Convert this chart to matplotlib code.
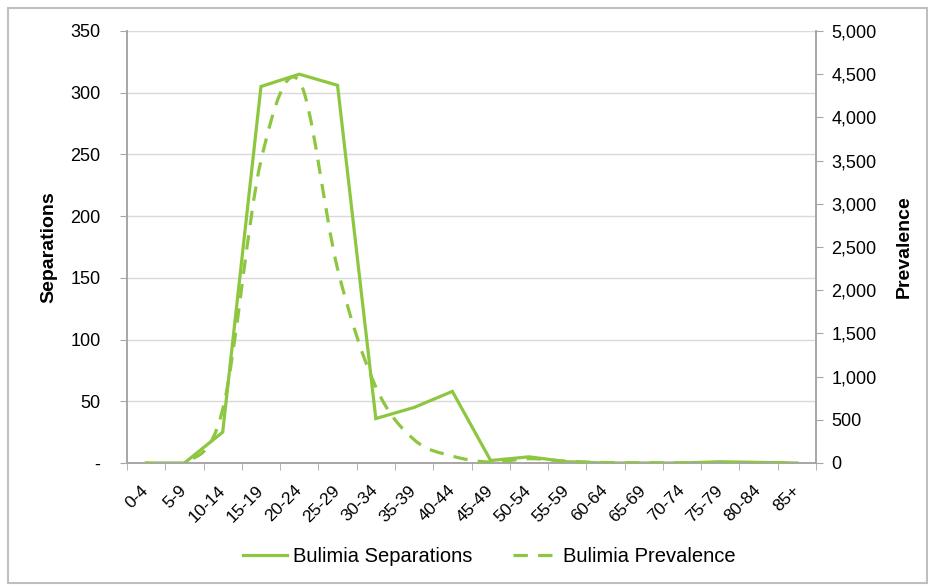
import numpy as np
import matplotlib
matplotlib.use("Agg")
from matplotlib import pyplot as plt
from matplotlib.path import Path
from matplotlib.patches import PathPatch, Rectangle
from matplotlib.lines import Line2D
from matplotlib.ticker import FuncFormatter
from matplotlib.transforms import ScaledTranslation

plt.rcParams['font.family'] = ['Liberation Sans', 'DejaVu Sans']

age_groups = ['0-4', '5-9', '10-14', '15-19', '20-24', '25-29', '30-34', '35-39',
              '40-44', '45-49', '50-54', '55-59', '60-64', '65-69', '70-74',
              '75-79', '80-84', '85+']
separations = [0, 0, 25, 305, 315, 306, 36, 45, 58, 2, 5, 1, 0, 0, 0, 1, 0.5, 0]
prevalence = [0, 0, 620, 3500, 4420, 2250, 880, 270, 80, 10, 50, 20, 5, 3, 2, 5, 2, 1]

green = '#8DC63F'
grey = '#A6A6A6'
dash = (0, (4.5, 3.2))

fig = plt.figure(figsize=(9.29, 5.88), dpi=100)
ax = fig.add_axes([0.1367, 0.2126, 0.7417, 0.7347])
ax2 = ax.twinx()

x = np.arange(len(age_groups))
ax.plot(x, separations, color=green, lw=2.3, solid_joinstyle='miter', zorder=3)

# smoothed dashed line (Excel style bezier through the points)
pts = np.column_stack([x, prevalence]).astype(float)
ext = np.vstack([pts[0], pts, pts[-1]])
verts = [tuple(pts[0])]
codes = [Path.MOVETO]
for i in range(len(pts) - 1):
    p0, p1, p2, p3 = ext[i], ext[i + 1], ext[i + 2], ext[i + 3]
    c1 = p1 + (p2 - p0) / 6
    c2 = p2 - (p3 - p1) / 6
    verts += [tuple(c1), tuple(c2), tuple(p2)]
    codes += [Path.CURVE4] * 3
ax2.add_patch(PathPatch(Path(verts, codes), fill=False, edgecolor=green, lw=2.3,
                        linestyle=dash, zorder=3))

ax.set_xlim(-0.5, len(age_groups) - 0.5)
ax.set_ylim(0, 350)
ax2.set_ylim(0, 5000)

ax.set_yticks(np.arange(0, 351, 50))
ax.yaxis.set_major_formatter(FuncFormatter(lambda v, p: '-' if v == 0 else f'{int(v)}'))
ax2.set_yticks(np.arange(0, 5001, 500))
ax2.yaxis.set_major_formatter(FuncFormatter(lambda v, p: f'{int(v):,}'))

ax.set_xticks(x)
ax.set_xticklabels(age_groups, rotation=45, ha='right', va='center', rotation_mode='anchor')
shift = ScaledTranslation(-5 / 100, 0, fig.dpi_scale_trans)
for lab in ax.get_xticklabels():
    lab.set_transform(lab.get_transform() + shift)
ax.set_xticks(np.arange(-0.5, len(age_groups)), minor=True)
ax.tick_params(axis='x', which='major', length=0, pad=18, labelsize=12.5)
ax.tick_params(axis='x', which='minor', length=5, color=grey)
ax.tick_params(axis='y', length=5, color=grey, labelsize=13, pad=14)
ax2.tick_params(axis='y', length=5, color=grey, labelsize=13, pad=6)

ax.grid(axis='y', color='#D9D9D9', lw=1)
ax.set_axisbelow(True)
for a in (ax, ax2):
    a.spines['top'].set_visible(False)
    for s in ('left', 'right', 'bottom'):
        a.spines[s].set_color(grey)
        a.spines[s].set_linewidth(1.2)

ax.set_ylabel('Separations', fontsize=14, fontweight='bold', labelpad=9)
ax2.set_ylabel('Prevalence', fontsize=14, fontweight='bold', labelpad=14)

handles = [Line2D([], [], color=green, lw=2.3),
           Line2D([], [], color=green, lw=2.3, linestyle=dash)]
fig.legend(handles, ['Bulimia Separations', 'Bulimia Prevalence'], loc='center',
           bbox_to_anchor=(0.527, 0.054), ncol=2, frameon=False, fontsize=14.5,
           handlelength=2.2, columnspacing=2.0, handletextpad=0.3)

fig.add_artist(Rectangle((8 / 929, 5 / 588), 919 / 929, 575 / 588, transform=fig.transFigure,
                         fill=False, edgecolor='#BFBFBF', lw=1.5))

fig.savefig('out.png', dpi=100)
